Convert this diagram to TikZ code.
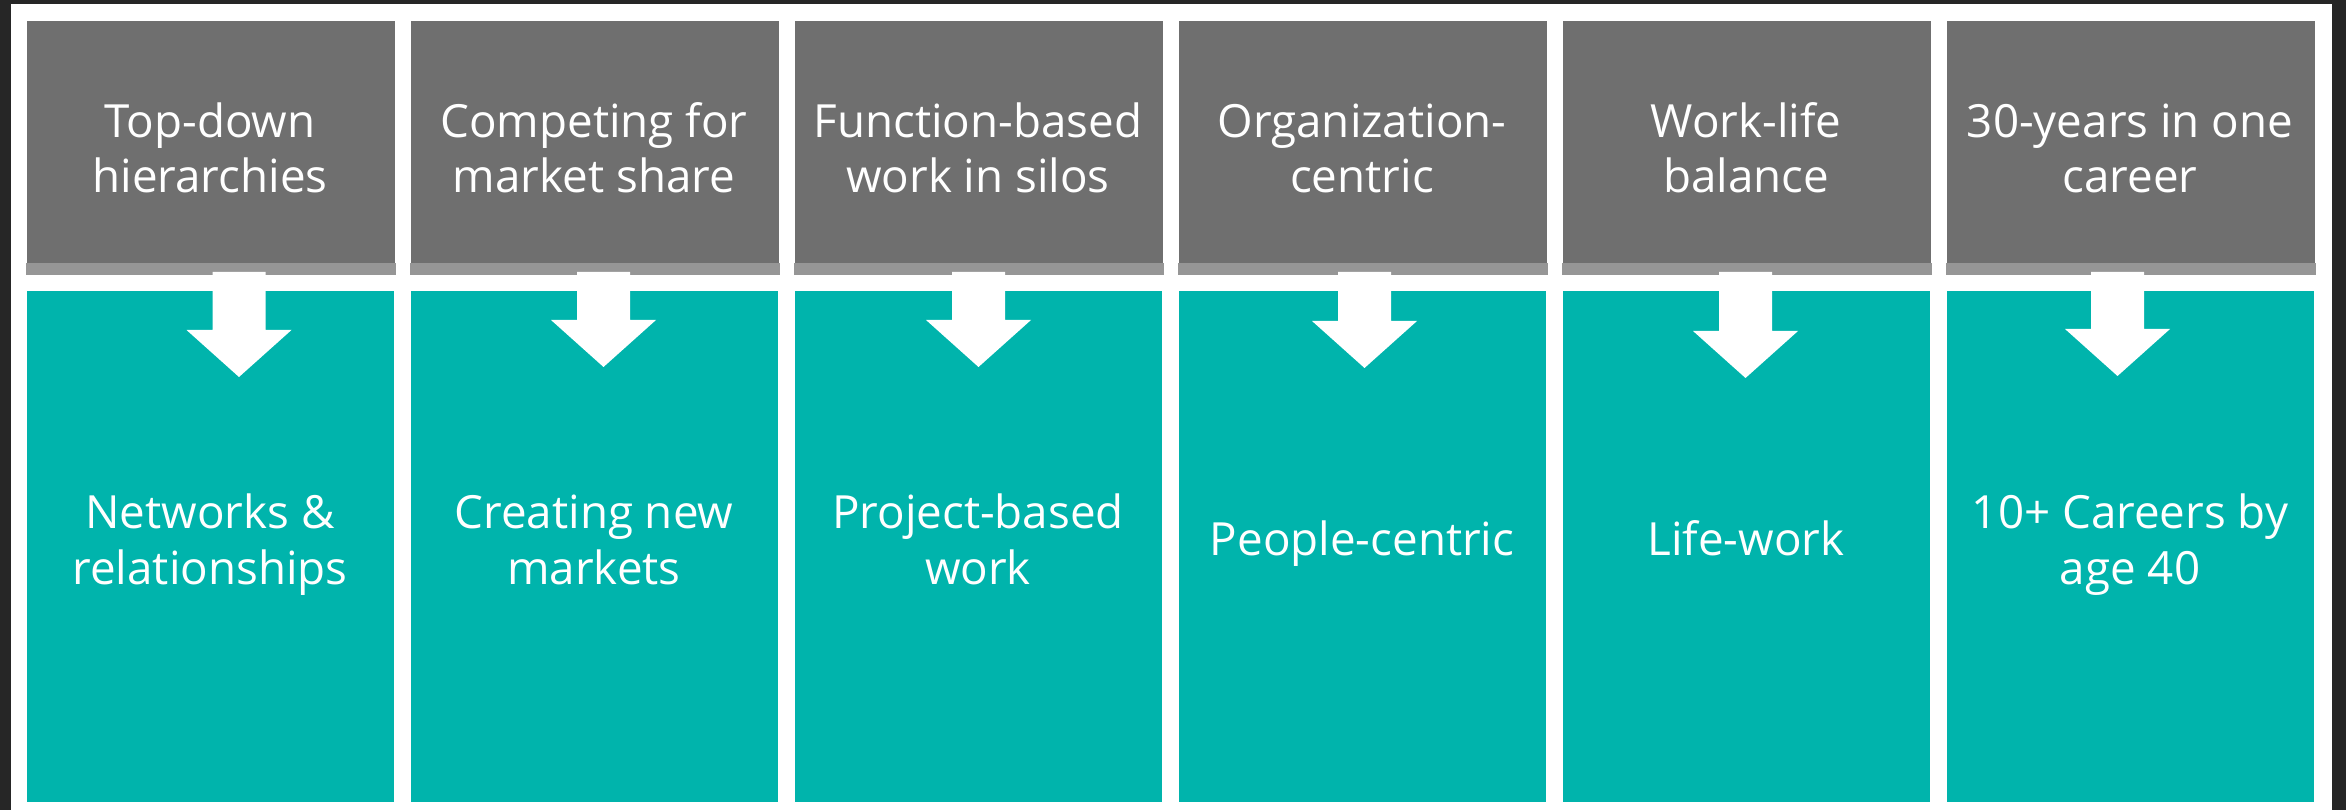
\documentclass[tikz,border=0pt]{standalone}
\usepackage{fontspec}
\setmainfont{Open Sans}
\usetikzlibrary{positioning}

\definecolor{frame}{HTML}{262626}
\definecolor{slate}{HTML}{6F6F6F}
\definecolor{slateband}{HTML}{969696}
\definecolor{tealbox}{HTML}{00B4AC}

\begin{document}
\begin{tikzpicture}[x=0.01cm,y=-0.01cm,
    oldbox/.style={fill=slate, minimum width=3.68cm, minimum height=2.53cm, inner sep=0pt, anchor=north west},
    newbox/.style={fill=tealbox, minimum width=3.67cm, minimum height=5.10cm, inner sep=0pt},
    boxtext/.style={text=white, align=center, inner sep=0pt, anchor=base, font=\fontsize{13}{15.9}\selectfont}]
  \useasboundingbox (0,0) rectangle (2346,810);
  \fill[frame] (0,0) rectangle (2346,810);
  \fill[white] (11,4) rectangle (2332,810);

  % old way of working (grey) above, new way (teal) below
  \foreach \i/\old/\new/\ny in {
      1/Top-down\\hierarchies/Networks \&\\relationships/584,
      2/Competing for\\market share/Creating new\\markets/584,
      3/Function-based\\work in silos/Project-based\\work/584,
      4/Organization-\\centric/People-centric/556,
      5/Work-life\\balance/Life-work/556,
      6/30-years in one\\career/10+ Careers by\\age 40/584} {
    \pgfmathsetmacro{\bx}{26+384*(\i-1)}
    \node[oldbox] (old\i) at (\bx,20) {};
    \fill[slateband] ([yshift=0.12cm]old\i.south west) rectangle (old\i.south east);
    \node[newbox, below=0.16cm of old\i] (new\i) {};
    \node[boxtext] (oldtext\i) at (\bx+184,193) {\old};
    \node[boxtext] (newtext\i) at (\bx+184,\ny) {\new};
  }

  % block arrows
  \foreach \i/\ax/\ay in {1/239/377, 2/603.5/367, 3/978.5/367,
                          4/1364.5/368, 5/1745.5/378, 6/2117.5/376} {
    \coordinate (tip\i) at (\ax,\ay);
    \fill[white] (tip\i) -- (\ax-52.5,\ay-47) -- (\ax-26.5,\ay-47) -- (\ax-26.5,272)
      -- (\ax+26.5,272) -- (\ax+26.5,\ay-47) -- (\ax+52.5,\ay-47) -- cycle;
  }
\end{tikzpicture}
\end{document}
